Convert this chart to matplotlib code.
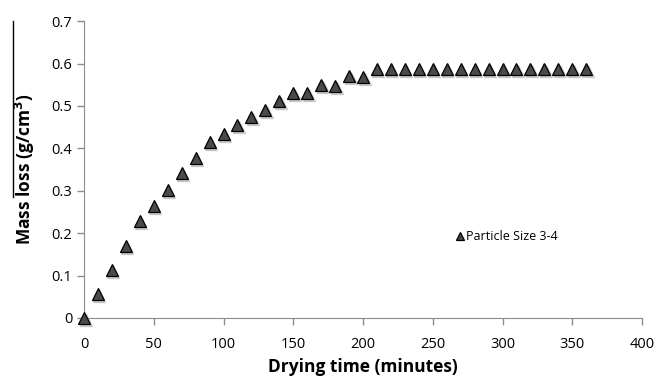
import matplotlib.pyplot as plt
from matplotlib.lines import Line2D
from matplotlib.transforms import offset_copy

plt.rcParams['font.family'] = ['Open Sans', 'DejaVu Sans']

TIME = list(range(0, 370, 10))
MASS_LOSS = [0.0, 0.057, 0.114, 0.170, 0.228, 0.263, 0.301, 0.341, 0.378, 0.416,
             0.434, 0.454, 0.473, 0.491, 0.512, 0.530, 0.530, 0.549, 0.548, 0.570,
             0.569] + [0.586] * 16
X_TICKS = list(range(0, 450, 50))
Y_TICKS = [0, 0.1, 0.2, 0.3, 0.4, 0.5, 0.6, 0.7]
Y_TICK_LABELS = ["0", "0.1", "0.2", "0.3", "0.4", "0.5", "0.6", "0.7"]

fig = plt.figure(figsize=(6.67, 3.78), dpi=100)
ax = fig.add_axes([0.126, 0.159, 0.8365, 0.785])

# soft shadow under each marker
shadow = offset_copy(ax.transData, fig=fig, x=1.5, y=-2.0, units='dots')
ax.plot(TIME, MASS_LOSS, linestyle='none', marker='^', markersize=9,
        color='#bbbbbb', markeredgecolor='#bbbbbb', alpha=0.7,
        transform=shadow, clip_on=False, zorder=2)
ax.plot(TIME, MASS_LOSS, linestyle='none', marker='^', markersize=9,
        markerfacecolor='#4a4a4a', markeredgecolor='black', markeredgewidth=0.9,
        label='Particle Size 3-4', clip_on=False, zorder=3)

ax.set_xlim(0, 400)
ax.set_ylim(0, 0.7)
ax.set_xticks(X_TICKS)
ax.set_yticks(Y_TICKS)
ax.set_yticklabels(Y_TICK_LABELS)
for s in ['top', 'right']:
    ax.spines[s].set_visible(False)
for s in ['left', 'bottom']:
    ax.spines[s].set_color('#8c8c8c')
ax.tick_params(axis='both', colors='#8c8c8c', labelcolor='black', labelsize=10.5,
               length=5, width=1)
ax.tick_params(axis='x', pad=9)

ax.set_xlabel('Drying time (minutes)', fontsize=12.5, fontweight='bold', labelpad=4)
ax.set_ylabel('Mass loss (g/cm$^\\mathbf{3}$)', fontsize=12.5, fontweight='bold', labelpad=10)

ax.legend(loc='center left', bbox_to_anchor=(0.662, 0.273), frameon=False,
          handletextpad=0.0, handlelength=1.0, fontsize=9, markerscale=0.7,
          borderaxespad=0, borderpad=0)

fig.add_artist(Line2D([0.0195, 0.0195], [0.48, 0.945], color='black', linewidth=1))

fig.savefig('out.png', dpi=100)
